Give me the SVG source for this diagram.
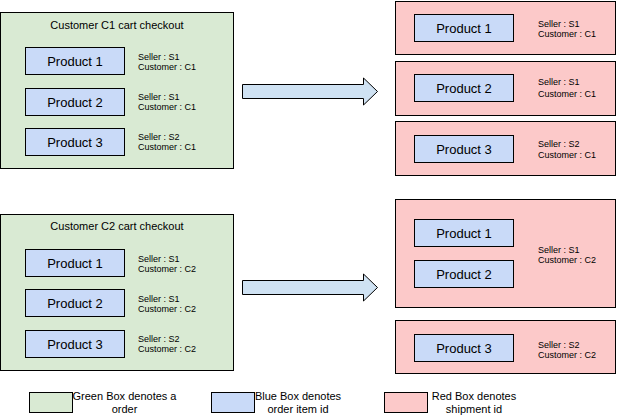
<svg xmlns="http://www.w3.org/2000/svg" width="617" height="416" viewBox="0 0 617 416">
<style>
text{font-family:"Liberation Sans",Arial,sans-serif;fill:#000}
.g{fill:#d9ead3;stroke:#000;stroke-width:1}
.b{fill:#c9daf8;stroke:#000;stroke-width:1}
.r{fill:#fcc9c9;stroke:#000;stroke-width:1}
.a{fill:#cfe2f3;stroke:#000;stroke-width:1}
.p{font-size:13px;text-anchor:middle}
.t{font-size:11px;text-anchor:middle}
.s{font-size:9px}
.l{font-size:11px;text-anchor:middle}
</style>
<rect width="617" height="416" fill="#fff"/>
<g id="order-c1">
<rect class="g" x="0.5" y="12.5" width="233" height="156"/>
<text class="t" x="117" y="29">Customer C1 cart checkout</text>
<g id="c1-item1"><rect class="b" x="25.5" y="47.5" width="99" height="27"/><text class="p" x="75" y="65.5">Product 1</text></g>
<text class="s" x="138" y="60">Seller : S1</text><text class="s" x="138" y="70">Customer : C1</text>
<g id="c1-item2"><rect class="b" x="25.5" y="88.5" width="99" height="27"/><text class="p" x="75" y="106.5">Product 2</text></g>
<text class="s" x="138" y="100">Seller : S1</text><text class="s" x="138" y="110">Customer : C1</text>
<g id="c1-item3"><rect class="b" x="25.5" y="128.5" width="99" height="27"/><text class="p" x="75" y="146.5">Product 3</text></g>
<text class="s" x="138" y="140">Seller : S2</text><text class="s" x="138" y="150">Customer : C1</text>
</g>
<g id="order-c2">
<rect class="g" x="0.5" y="214.5" width="233" height="156"/>
<text class="t" x="117" y="230">Customer C2 cart checkout</text>
<g id="c2-item1"><rect class="b" x="25.5" y="249.5" width="99" height="27"/><text class="p" x="75" y="267.5">Product 1</text></g>
<text class="s" x="138" y="261.5">Seller : S1</text><text class="s" x="138" y="271.5">Customer : C2</text>
<g id="c2-item2"><rect class="b" x="25.5" y="289.5" width="99" height="27"/><text class="p" x="75" y="307.5">Product 2</text></g>
<text class="s" x="138" y="301.5">Seller : S1</text><text class="s" x="138" y="311.5">Customer : C2</text>
<g id="c2-item3"><rect class="b" x="25.5" y="330.5" width="99" height="27"/><text class="p" x="75" y="348.5">Product 3</text></g>
<text class="s" x="138" y="341.5">Seller : S2</text><text class="s" x="138" y="351.5">Customer : C2</text>
</g>
<g id="connectors">
<polygon class="a" points="242.5,84.5 363.5,84.5 363.5,78 377.5,91.5 363.5,105 363.5,98.5 242.5,98.5"/>
<polygon class="a" points="242.5,280.5 363.5,280.5 363.5,274 377.5,287.5 363.5,301 363.5,294.5 242.5,294.5"/>
</g>
<g id="ship-c1-1">
<rect class="r" x="395.5" y="1.5" width="220" height="53"/>
<rect class="b" x="414.5" y="14.5" width="99" height="27"/><text class="p" x="464" y="32.5">Product 1</text>
<text class="s" x="538" y="27">Seller : S1</text><text class="s" x="538" y="36.5">Customer : C1</text>
</g>
<g id="ship-c1-2">
<rect class="r" x="395.5" y="61.5" width="220" height="54"/>
<rect class="b" x="414.5" y="74.5" width="99" height="27"/><text class="p" x="464" y="92.5">Product 2</text>
<text class="s" x="538" y="85">Seller : S1</text><text class="s" x="538" y="96.5">Customer : C1</text>
</g>
<g id="ship-c1-3">
<rect class="r" x="395.5" y="121.5" width="220" height="54"/>
<rect class="b" x="414.5" y="135.5" width="99" height="27"/><text class="p" x="464" y="153.5">Product 3</text>
<text class="s" x="538" y="146.5">Seller : S2</text><text class="s" x="538" y="157.5">Customer : C1</text>
</g>
<g id="ship-c2-1">
<rect class="r" x="395.5" y="199.5" width="220" height="108"/>
<rect class="b" x="414.5" y="219.5" width="99" height="27"/><text class="p" x="464" y="237.5">Product 1</text>
<rect class="b" x="414.5" y="260.5" width="99" height="27"/><text class="p" x="464" y="278.5">Product 2</text>
<text class="s" x="538" y="252.5">Seller : S1</text><text class="s" x="538" y="262.5">Customer : C2</text>
</g>
<g id="ship-c2-2">
<rect class="r" x="395.5" y="320.5" width="220" height="53"/>
<rect class="b" x="414.5" y="334.5" width="99" height="27"/><text class="p" x="464" y="352.5">Product 3</text>
<text class="s" x="538" y="347.5">Seller : S2</text><text class="s" x="538" y="357.5">Customer : C2</text>
</g>
<g id="legend-green">
<rect class="g" x="29.5" y="392.5" width="43" height="20"/>
<text class="l" x="124.5" y="400">Green Box denotes a</text><text class="l" x="124.5" y="412.5">order</text>
</g>
<g id="legend-blue">
<rect class="b" x="211.5" y="392.5" width="43" height="20"/>
<text class="l" x="298" y="400">Blue Box denotes</text><text class="l" x="298" y="412.5">order item id</text>
</g>
<g id="legend-red">
<rect class="r" x="384.5" y="392.5" width="43" height="20"/>
<text class="l" x="474" y="400">Red Box denotes</text><text class="l" x="474" y="412.5">shipment id</text>
</g>
</svg>
